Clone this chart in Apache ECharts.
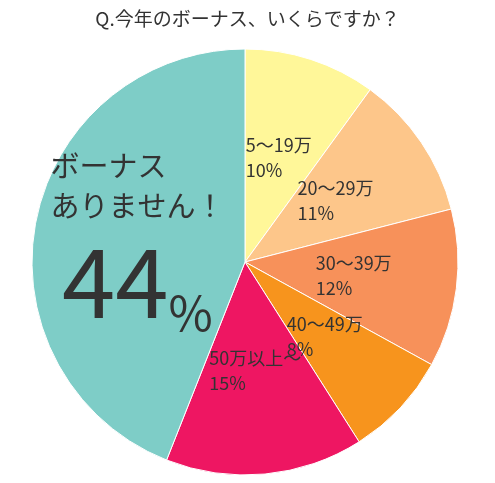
<!DOCTYPE html>
<html><head><meta charset="utf-8">
<script src="https://cdn.jsdelivr.net/npm/echarts@6/dist/echarts.min.js"></script>
<style>html,body{margin:0;padding:0;background:#fff}#c{width:495px;height:483px}</style>
</head><body><div id="c"></div>
<script>
const categories = ['5〜19万', '20〜29万', '30〜39万', '40〜49万', '50万以上〜', 'ボーナス\nありません！'];
const values = [10, 11, 12, 8, 15, 44];
const colors = ['#fff799', '#fdc68a', '#f7915a', '#f7941d', '#ee1662', '#7ecdc7'];
const chart = echarts.init(document.getElementById('c'));
chart.setOption({
  animation: false,
  title: { text: 'Q.今年のボーナス、いくらですか？', left: 'center', top: 4,
    textStyle: { fontFamily: 'Noto Sans CJK JP', fontSize: 19, fontWeight: 'normal', color: '#333' } },
  series: [{
    type: 'pie', radius: 213, center: [245, 262], startAngle: 90, clockwise: true,
    itemStyle: { borderColor: '#fff', borderWidth: 1 },
    labelLayout: { hideOverlap: false },
    label: {
      position: 'inside', color: '#333', fontFamily: 'Noto Sans CJK JP', fontSize: 18, lineHeight: 25, align: 'left',
      formatter: p => p.dataIndex === 5 ? '{a|' + p.name + '}\n{b|' + p.value + '}{c|%}' : '{s|' + p.name + '}\n{s|' + p.value + '%}',
      rich: {
        s: { fontSize: 18, lineHeight: 25, color: '#333', fontFamily: 'Noto Sans CJK JP', align: 'left' },
        a: { fontSize: 29, lineHeight: 40, color: '#333', fontFamily: 'Noto Sans CJK JP', align: 'left' },
        b: { fontSize: 96, lineHeight: 110, color: '#333', fontFamily: 'Noto Sans CJK JP' },
        c: { fontSize: 48, lineHeight: 110, color: '#333', fontFamily: 'Noto Sans CJK JP', verticalAlign: 'bottom' }
      }
    },
    labelLine: { show: false },
    data: categories.map((c, i) => ({ name: c, value: values[i], itemStyle: { color: colors[i] } }))
  }]
});
</script></body></html>
